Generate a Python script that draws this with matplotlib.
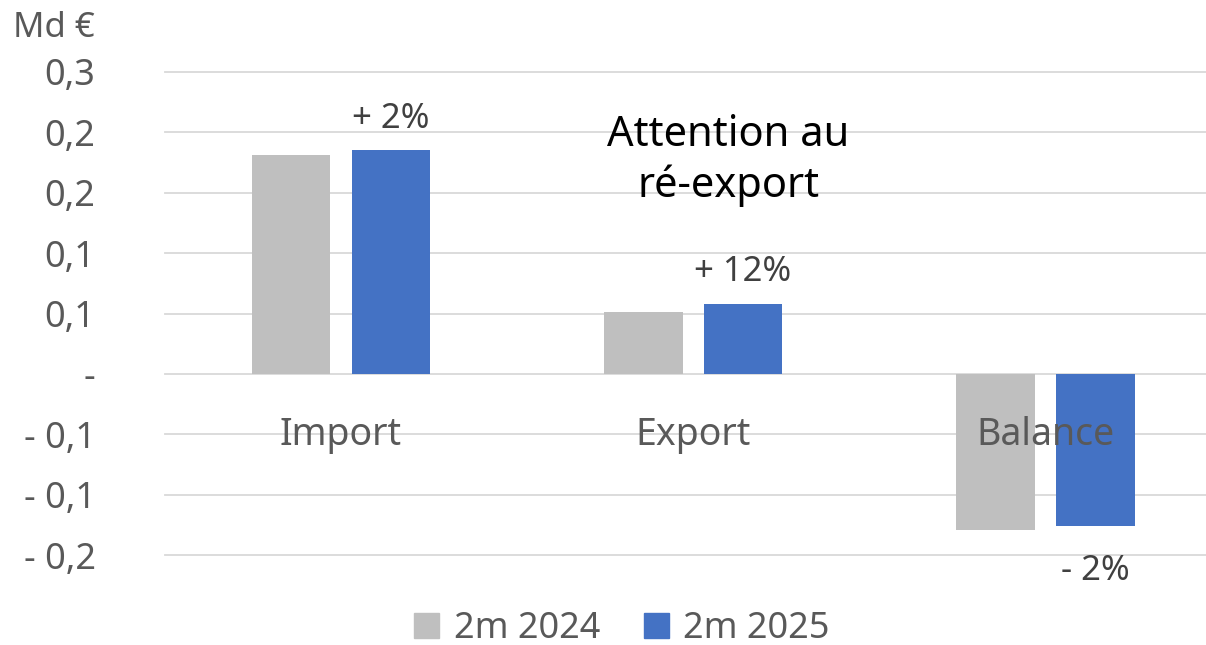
import matplotlib.pyplot as plt
import numpy as np
from matplotlib.patches import Patch

plt.rcParams['font.family'] = ['Noto Sans', 'DejaVu Sans']

categories = ['Import', 'Export', 'Balance']
values_2024 = [0.181, 0.051, -0.129]
values_2025 = [0.185, 0.058, -0.126]
series_names = ['2m 2024', '2m 2025']
variations = ['+ 2%', '+ 12%', '- 2%']

y_ticks = [-0.15, -0.10, -0.05, 0.0, 0.05, 0.10, 0.15, 0.20, 0.25]
y_tick_labels = ['- 0,2', '- 0,1', '- 0,1', '-', '0,1', '0,1', '0,2', '0,2', '0,3']

GREY = '#BFBFBF'
BLUE = '#4472C4'
TEXT = '#595959'
GRID = '#D9D9D9'

W, H = 1206, 645
fig = plt.figure(figsize=(W / 100, H / 100), dpi=100)
ax = fig.add_axes([165 / W, 1 - 555 / H, (W - 165) / W, (555 - 72) / H])

x = np.arange(len(categories))
bar_w = 0.224
off = 0.142
ax.bar(x - off, values_2024, bar_w, color=GREY, zorder=3)
ax.bar(x + off, values_2025, bar_w, color=BLUE, zorder=3)

ax.set_xlim(-0.5, 2.457)
ax.set_ylim(-0.15, 0.25)
ax.set_yticks(y_ticks)
ax.set_yticklabels(y_tick_labels)
ax.set_xticks([])
ax.tick_params(axis='y', length=0, pad=50, labelsize=26, labelcolor=TEXT)
for s in ax.spines.values():
    s.set_visible(False)
for t in y_ticks:
    ax.axhline(t, color=GRID, lw=1.3, zorder=1, clip_on=False)

# etiquettes de catégories dans le graphique
for xi, c in zip(x, categories):
    ax.text(xi, -0.051, c, ha='center', va='center', fontsize=27, color=TEXT, zorder=4)

# variations
for xi, v, lab in zip(x, values_2025, variations):
    if v >= 0:
        ax.text(xi + off, v + 0.026, lab, ha='center', va='center', fontsize=25, color='#404040', zorder=4)
    else:
        ax.text(xi + off, v - 0.037, lab, ha='center', va='center', fontsize=25, color='#404040', zorder=4)

ax.text(1.1, 0.1975, 'Attention au', ha='center', va='center', fontsize=30, color='black')
ax.text(1.1, 0.1555, 'ré-export', ha='center', va='center', fontsize=30, color='black')

fig.text(13 / W, 1 - 28 / H, 'Md €', ha='left', va='center', fontsize=25, color=TEXT)

handles = [Patch(color=GREY), Patch(color=BLUE)]
fig.legend(handles, series_names, loc='center', bbox_to_anchor=(622 / W, 1 - 629 / H),
           ncol=2, frameon=False, fontsize=26, labelcolor=TEXT, borderpad=0.1,
           handlelength=0.7, handleheight=0.7, handletextpad=0.4, columnspacing=1.2)

fig.savefig('out.png', dpi=100)
